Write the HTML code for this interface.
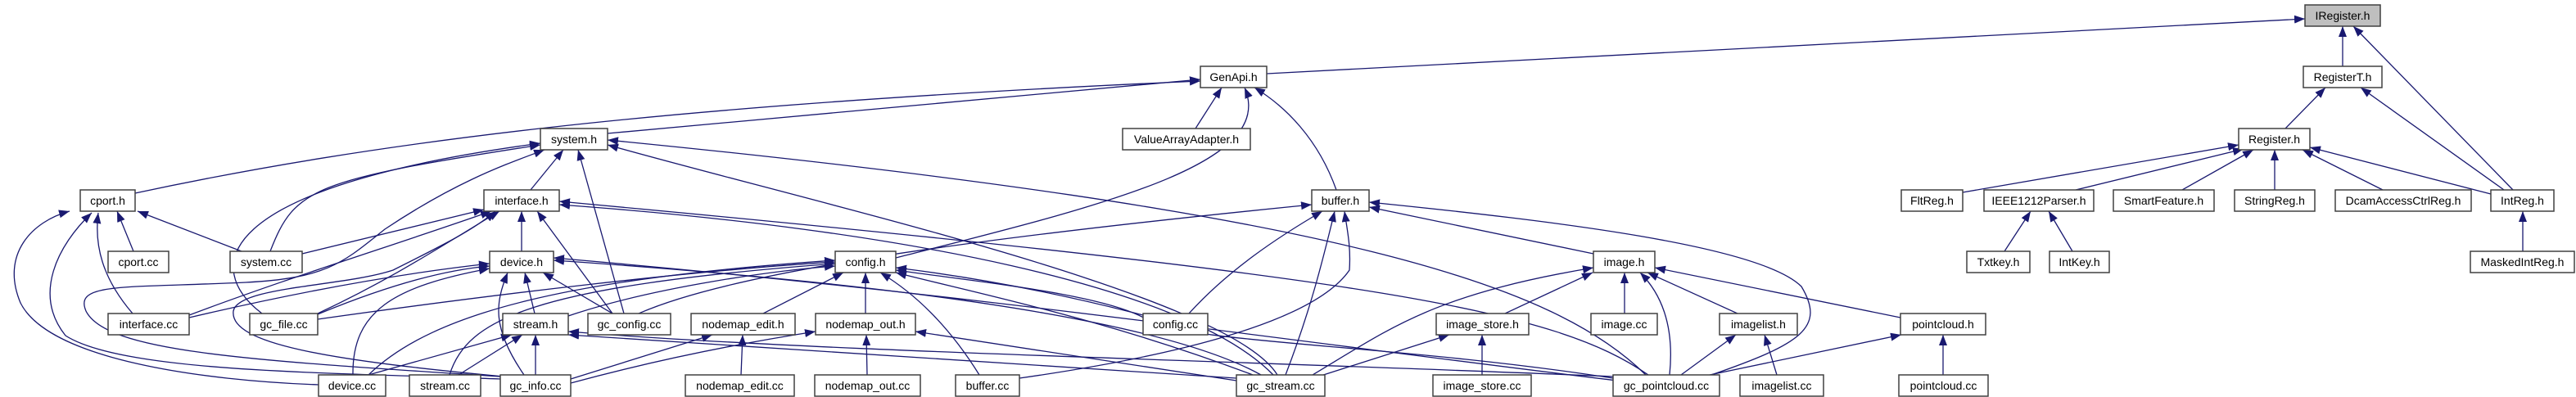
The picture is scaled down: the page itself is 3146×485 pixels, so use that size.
<!DOCTYPE html>
<html><head><meta charset="utf-8"><style>
html,body{margin:0;padding:0;background:#fff;}
svg{display:block;}
text{font-family:"Liberation Sans",sans-serif;font-size:14px;fill:#000;}
.n rect{fill:#fff;stroke:#404040;stroke-width:1.5;}
.e path{fill:none;stroke:#191970;stroke-width:1.3;}
</style></head><body>
<svg width="3146" height="485" viewBox="0 0 3146 485" xmlns="http://www.w3.org/2000/svg">
<defs><marker id="a" markerUnits="userSpaceOnUse" markerWidth="13" markerHeight="10" refX="13" refY="5" orient="auto"><path d="M0,0 L13,5 L0,10 z" fill="#191970"/></marker></defs>
<g class="e" marker-end="url(#a)">
<path d="M1547,90 L2815,23" marker-end="url(#a)"/>
<path d="M2861,81 L2861,32" marker-end="url(#a)"/>
<path d="M3069,232 L2874,32" marker-end="url(#a)"/>
<path d="M2791,157 L2840,107" marker-end="url(#a)"/>
<path d="M3058,232 L2883,107" marker-end="url(#a)"/>
<path d="M2397,235 L2734,177" marker-end="url(#a)"/>
<path d="M2535,232 L2740,182" marker-end="url(#a)"/>
<path d="M2665,232 L2752,183" marker-end="url(#a)"/>
<path d="M2778,232 L2778,183" marker-end="url(#a)"/>
<path d="M2910,232 L2812,183" marker-end="url(#a)"/>
<path d="M3042,237 L2821,180" marker-end="url(#a)"/>
<path d="M2448,307 L2480,258" marker-end="url(#a)"/>
<path d="M2531,307 L2502,258" marker-end="url(#a)"/>
<path d="M3081,307 L3081,258" marker-end="url(#a)"/>
<path d="M742,163 L1466,97" marker-end="url(#a)"/>
<path d="M165,236 C450,175 800,128 1466,99" marker-end="url(#a)"/>
<path d="M1460,157 L1492,107" marker-end="url(#a)"/>
<path d="M1632,232 C1610,170 1570,130 1532,107" marker-end="url(#a)"/>
<path d="M1094,315 C1350,250 1560,200 1520,107" marker-end="url(#a)"/>
<path d="M648,232 L688,183" marker-end="url(#a)"/>
<path d="M330,307 C360,230 380,220 660,177" marker-end="url(#a)"/>
<path d="M320,383 C250,330 250,230 660,175" marker-end="url(#a)"/>
<path d="M762,383 L706,183" marker-end="url(#a)"/>
<path d="M1560,458 C1500,360 1000,250 742,177" marker-end="url(#a)"/>
<path d="M2010,458 C1900,350 1650,260 742,171" marker-end="url(#a)"/>
<path d="M612,460 C300,440 130,430 105,380 C90,345 150,352 300,345 C400,340 420,320 470,280 C560,220 620,200 665,183" marker-end="url(#a)"/>
<path d="M163,307 L143,258" marker-end="url(#a)"/>
<path d="M295,307 L168,258" marker-end="url(#a)"/>
<path d="M162,383 C125,340 115,300 120,260" marker-end="url(#a)"/>
<path d="M389,470 C250,465 60,440 25,370 C0,310 40,270 85,258" marker-end="url(#a)"/>
<path d="M611,463 C400,455 150,455 80,410 C40,360 70,300 112,260" marker-end="url(#a)"/>
<path d="M369,310 L591,256" marker-end="url(#a)"/>
<path d="M231,385 C350,340 480,300 600,258" marker-end="url(#a)"/>
<path d="M388,383 C480,340 540,300 610,258" marker-end="url(#a)"/>
<path d="M615,460 C400,440 280,420 285,380 C290,350 420,350 480,330 C540,300 580,280 605,258" marker-end="url(#a)"/>
<path d="M637,307 L637,258" marker-end="url(#a)"/>
<path d="M748,383 L656,258" marker-end="url(#a)"/>
<path d="M1555,458 C1450,350 1100,280 683,250" marker-end="url(#a)"/>
<path d="M2013,458 C1900,380 1700,340 683,246" marker-end="url(#a)"/>
<path d="M231,388 C350,360 480,335 598,322" marker-end="url(#a)"/>
<path d="M388,384 C470,350 540,330 598,325" marker-end="url(#a)"/>
<path d="M431,458 C430,380 480,350 598,328" marker-end="url(#a)"/>
<path d="M653,383 L641,333" marker-end="url(#a)"/>
<path d="M748,383 L663,333" marker-end="url(#a)"/>
<path d="M640,458 C600,400 605,370 620,333" marker-end="url(#a)"/>
<path d="M1540,458 C1400,380 1000,340 676,318" marker-end="url(#a)"/>
<path d="M1975,465 C1600,420 1200,360 676,315" marker-end="url(#a)"/>
<path d="M388,390 C600,360 850,330 1020,320" marker-end="url(#a)"/>
<path d="M450,458 C530,380 700,340 1020,318" marker-end="url(#a)"/>
<path d="M549,458 C570,390 650,350 1020,322" marker-end="url(#a)"/>
<path d="M694,386 C800,350 950,330 1020,325" marker-end="url(#a)"/>
<path d="M932,383 L1030,333" marker-end="url(#a)"/>
<path d="M1057,383 L1057,333" marker-end="url(#a)"/>
<path d="M1196,458 C1160,400 1120,360 1075,333" marker-end="url(#a)"/>
<path d="M1396,385 C1300,360 1200,340 1094,327" marker-end="url(#a)"/>
<path d="M1530,458 C1350,390 1200,360 1094,333" marker-end="url(#a)"/>
<path d="M1970,462 C1700,420 1450,420 1400,390 C1350,360 1200,345 1094,330" marker-end="url(#a)"/>
<path d="M780,383 C900,330 1200,290 1602,250" marker-end="url(#a)"/>
<path d="M450,458 L625,409" marker-end="url(#a)"/>
<path d="M560,458 L638,409" marker-end="url(#a)"/>
<path d="M654,458 L654,409" marker-end="url(#a)"/>
<path d="M1510,462 C1200,440 900,420 694,409" marker-end="url(#a)"/>
<path d="M1970,460 C1500,440 1000,430 694,405" marker-end="url(#a)"/>
<path d="M905,458 L907,409" marker-end="url(#a)"/>
<path d="M697,463 L870,409" marker-end="url(#a)"/>
<path d="M1059,458 L1058,409" marker-end="url(#a)"/>
<path d="M697,468 C800,440 900,420 996,405" marker-end="url(#a)"/>
<path d="M1510,465 L1118,405" marker-end="url(#a)"/>
<path d="M1452,383 C1500,330 1560,290 1615,258" marker-end="url(#a)"/>
<path d="M1570,458 C1600,380 1615,320 1630,258" marker-end="url(#a)"/>
<path d="M1245,462 C1400,440 1600,400 1648,330 C1650,300 1645,280 1642,258" marker-end="url(#a)"/>
<path d="M1946,310 L1672,253" marker-end="url(#a)"/>
<path d="M2090,458 C2200,420 2230,400 2200,350 C2150,300 1900,270 1672,247" marker-end="url(#a)"/>
<path d="M1603,458 C1700,400 1750,360 1946,327" marker-end="url(#a)"/>
<path d="M1838,383 L1945,333" marker-end="url(#a)"/>
<path d="M1984,383 L1984,333" marker-end="url(#a)"/>
<path d="M2039,458 C2045,400 2030,360 2003,333" marker-end="url(#a)"/>
<path d="M2122,383 L2012,333" marker-end="url(#a)"/>
<path d="M2321,388 L2021,327" marker-end="url(#a)"/>
<path d="M1610,460 L1770,409" marker-end="url(#a)"/>
<path d="M1810,458 L1810,409" marker-end="url(#a)"/>
<path d="M2053,458 L2120,409" marker-end="url(#a)"/>
<path d="M2170,458 L2155,409" marker-end="url(#a)"/>
<path d="M2088,458 L2322,409" marker-end="url(#a)"/>
<path d="M2373,458 L2373,409" marker-end="url(#a)"/>
</g>
<g class="n">
<rect x="2815" y="6" width="92" height="26" style="fill:#bfbfbf"/><text x="2861" y="24" text-anchor="middle">IRegister.h</text>
<rect x="1466" y="81" width="81" height="26"/><text x="1506.5" y="99" text-anchor="middle">GenApi.h</text>
<rect x="2813" y="81" width="96" height="26"/><text x="2861" y="99" text-anchor="middle">RegisterT.h</text>
<rect x="660" y="157" width="82" height="26"/><text x="701" y="175" text-anchor="middle">system.h</text>
<rect x="1371" y="157" width="156" height="26"/><text x="1449" y="175" text-anchor="middle">ValueArrayAdapter.h</text>
<rect x="2734" y="157" width="87" height="26"/><text x="2777.5" y="175" text-anchor="middle">Register.h</text>
<rect x="98" y="232" width="67" height="26"/><text x="131.5" y="250" text-anchor="middle">cport.h</text>
<rect x="591" y="232" width="92" height="26"/><text x="637" y="250" text-anchor="middle">interface.h</text>
<rect x="1602" y="232" width="70" height="26"/><text x="1637" y="250" text-anchor="middle">buffer.h</text>
<rect x="2322" y="232" width="75" height="26"/><text x="2359.5" y="250" text-anchor="middle">FltReg.h</text>
<rect x="2423" y="232" width="134" height="26"/><text x="2490" y="250" text-anchor="middle">IEEE1212Parser.h</text>
<rect x="2581" y="232" width="123" height="26"/><text x="2642.5" y="250" text-anchor="middle">SmartFeature.h</text>
<rect x="2729" y="232" width="98" height="26"/><text x="2778" y="250" text-anchor="middle">StringReg.h</text>
<rect x="2852" y="232" width="166" height="26"/><text x="2935" y="250" text-anchor="middle">DcamAccessCtrlReg.h</text>
<rect x="3042" y="232" width="77" height="26"/><text x="3080.5" y="250" text-anchor="middle">IntReg.h</text>
<rect x="132" y="307" width="74" height="26"/><text x="169" y="325" text-anchor="middle">cport.cc</text>
<rect x="281" y="307" width="88" height="26"/><text x="325" y="325" text-anchor="middle">system.cc</text>
<rect x="598" y="307" width="78" height="26"/><text x="637" y="325" text-anchor="middle">device.h</text>
<rect x="1020" y="307" width="74" height="26"/><text x="1057" y="325" text-anchor="middle">config.h</text>
<rect x="1946" y="307" width="75" height="26"/><text x="1983.5" y="325" text-anchor="middle">image.h</text>
<rect x="2402" y="307" width="77" height="26"/><text x="2440.5" y="325" text-anchor="middle">Txtkey.h</text>
<rect x="2503" y="307" width="73" height="26"/><text x="2539.5" y="325" text-anchor="middle">IntKey.h</text>
<rect x="3017" y="307" width="127" height="26"/><text x="3080.5" y="325" text-anchor="middle">MaskedIntReg.h</text>
<rect x="132" y="383" width="99" height="26"/><text x="181.5" y="401" text-anchor="middle">interface.cc</text>
<rect x="305" y="383" width="83" height="26"/><text x="346.5" y="401" text-anchor="middle">gc_file.cc</text>
<rect x="614" y="383" width="80" height="26"/><text x="654" y="401" text-anchor="middle">stream.h</text>
<rect x="718" y="383" width="101" height="26"/><text x="768.5" y="401" text-anchor="middle">gc_config.cc</text>
<rect x="844" y="383" width="127" height="26"/><text x="907.5" y="401" text-anchor="middle">nodemap_edit.h</text>
<rect x="996" y="383" width="122" height="26"/><text x="1057" y="401" text-anchor="middle">nodemap_out.h</text>
<rect x="1396" y="383" width="79" height="26"/><text x="1435.5" y="401" text-anchor="middle">config.cc</text>
<rect x="1754" y="383" width="113" height="26"/><text x="1810.5" y="401" text-anchor="middle">image_store.h</text>
<rect x="1943" y="383" width="81" height="26"/><text x="1983.5" y="401" text-anchor="middle">image.cc</text>
<rect x="2100" y="383" width="95" height="26"/><text x="2147.5" y="401" text-anchor="middle">imagelist.h</text>
<rect x="2321" y="383" width="104" height="26"/><text x="2373" y="401" text-anchor="middle">pointcloud.h</text>
<rect x="389" y="458" width="82" height="26"/><text x="430" y="476" text-anchor="middle">device.cc</text>
<rect x="500" y="458" width="87" height="26"/><text x="543.5" y="476" text-anchor="middle">stream.cc</text>
<rect x="611" y="458" width="86" height="26"/><text x="654" y="476" text-anchor="middle">gc_info.cc</text>
<rect x="837" y="458" width="133" height="26"/><text x="903.5" y="476" text-anchor="middle">nodemap_edit.cc</text>
<rect x="995" y="458" width="129" height="26"/><text x="1059.5" y="476" text-anchor="middle">nodemap_out.cc</text>
<rect x="1167" y="458" width="78" height="26"/><text x="1206" y="476" text-anchor="middle">buffer.cc</text>
<rect x="1510" y="458" width="108" height="26"/><text x="1564" y="476" text-anchor="middle">gc_stream.cc</text>
<rect x="1750" y="458" width="120" height="26"/><text x="1810" y="476" text-anchor="middle">image_store.cc</text>
<rect x="1970" y="458" width="130" height="26"/><text x="2035" y="476" text-anchor="middle">gc_pointcloud.cc</text>
<rect x="2125" y="458" width="102" height="26"/><text x="2176" y="476" text-anchor="middle">imagelist.cc</text>
<rect x="2319" y="458" width="109" height="26"/><text x="2373.5" y="476" text-anchor="middle">pointcloud.cc</text>
</g>
</svg>
</body></html>
